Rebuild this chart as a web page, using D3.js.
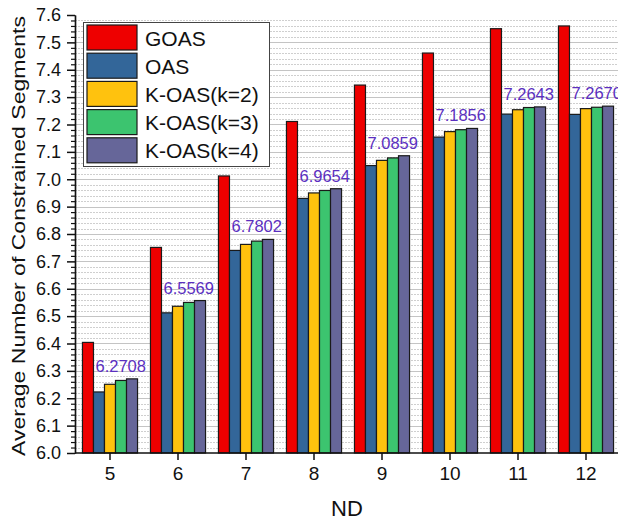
<!DOCTYPE html>
<html>
<head>
<meta charset="utf-8">
<script src="https://cdn.jsdelivr.net/npm/d3@7"></script>
<style>
  body { margin: 0; background: #fff; }
  text { font-family: Arial, "Liberation Sans", sans-serif; }
</style>
</head>
<body>
<div class="chart"></div>
<script>
// data
const ndValues = ["5", "6", "7", "8", "9", "10", "11", "12"];
const seriesNames = ["GOAS", "OAS", "K-OAS(k=2)", "K-OAS(k=3)", "K-OAS(k=4)"];
const seriesColors = ["#ee0000", "#336699", "#ffc20e", "#3cc46f", "#666699"];
const goas = [6.404, 6.751, 7.012, 7.211, 7.344, 7.461, 7.550, 7.560];
const oas  = [6.223, 6.512, 6.740, 6.930, 7.050, 7.154, 7.238, 7.237];
const koas2 = [6.251, 6.536, 6.762, 6.950, 7.069, 7.174, 7.254, 7.258];
const koas3 = [6.265, 6.550, 6.774, 6.959, 7.078, 7.181, 7.262, 7.263];
const koas4 = [6.2708, 6.5569, 6.7802, 6.9654, 7.0859, 7.1856, 7.2643, 7.2670];
const valueLabels = ["6.2708", "6.5569", "6.7802", "6.9654", "7.0859", "7.1856", "7.2643", "7.2670"];
const yTickValues = [6.0, 6.1, 6.2, 6.3, 6.4, 6.5, 6.6, 6.7, 6.8, 6.9, 7.0, 7.1, 7.2, 7.3, 7.4, 7.5, 7.6];
const yTickLabels = ["6.0", "6.1", "6.2", "6.3", "6.4", "6.5", "6.6", "6.7", "6.8", "6.9", "7.0", "7.1", "7.2", "7.3", "7.4", "7.5", "7.6"];

const allSeries = [goas, oas, koas2, koas3, koas4];

const width = 618, height = 520;
const plotLeft = 75, plotRight = 618, plotTop = 15, plotBottom = 453;

const svg = d3.select(".chart").append("svg")
    .attr("width", width)
    .attr("height", height);

const y = d3.scaleLinear().domain([6.0, 7.6]).range([plotBottom, plotTop]);
const x = d3.scaleBand().domain(ndValues).range([76, 620])
    .paddingInner(0.19).paddingOuter(0.095);
const xs = d3.scaleBand().domain(seriesNames).range([0, x.bandwidth()]);

// grid: dotted minor, solid major
const minor = y.ticks(80).filter(v => Math.abs(v * 10 - Math.round(v * 10)) > 1e-6);
svg.append("g").selectAll("line")
    .data(minor)
    .enter().append("line")
    .attr("x1", plotLeft).attr("x2", plotRight)
    .attr("y1", d => Math.round(y(d)) + 0.5).attr("y2", d => Math.round(y(d)) + 0.5)
    .attr("stroke", "#cfcfcf")
    .attr("stroke-dasharray", "2,1");

svg.append("g").selectAll("line")
    .data(yTickValues.slice(1, -1))
    .enter().append("line")
    .attr("x1", plotLeft).attr("x2", plotRight)
    .attr("y1", d => Math.round(y(d)) + 0.5).attr("y2", d => Math.round(y(d)) + 0.5)
    .attr("stroke", "#c4c4c4");

// bars
const groups = svg.append("g").selectAll("g")
    .data(ndValues)
    .enter().append("g")
    .attr("transform", d => "translate(" + x(d) + ",0)");

groups.selectAll("rect")
    .data((d, i) => seriesNames.map((s, j) => ({ s: s, v: allSeries[j][i], j: j })))
    .enter().append("rect")
    .attr("x", d => xs(d.s))
    .attr("y", d => y(d.v))
    .attr("width", xs.bandwidth())
    .attr("height", d => plotBottom - y(d.v))
    .attr("fill", d => seriesColors[d.j])
    .attr("stroke", "#1a1a1a")
    .attr("stroke-width", 1.2);

// value labels above the K-OAS(k=4) bars
svg.append("g").selectAll("text")
    .data(ndValues)
    .enter().append("text")
    .attr("x", d => x(d) + xs("OAS") + 2)
    .attr("y", (d, i) => y(koas4[i]) - 7)
    .attr("font-size", 16.5)
    .attr("fill", "#5b2fbf")
    .text((d, i) => valueLabels[i]);

// axes
const yAxis = svg.append("g")
    .attr("transform", "translate(" + plotLeft + ",0)")
    .call(d3.axisLeft(y).tickValues(yTickValues)
        .tickFormat((d, i) => yTickLabels[i])
        .tickSize(8).tickSizeOuter(0).tickPadding(6));
yAxis.selectAll("text").attr("font-size", 18).attr("fill", "#111");
yAxis.selectAll("line, path").attr("stroke", "#111").attr("stroke-width", 1.5);

const yMinor = svg.append("g")
    .attr("transform", "translate(" + plotLeft + ",0)")
    .call(d3.axisLeft(y).tickValues(minor).tickFormat("").tickSize(4).tickSizeOuter(0));
yMinor.selectAll("line, path").attr("stroke", "#111").attr("stroke-width", 1.2);

const xAxis = svg.append("g")
    .attr("transform", "translate(0," + plotBottom + ")")
    .call(d3.axisBottom(x).tickSize(7).tickSizeOuter(0).tickPadding(7));
xAxis.select(".domain").attr("d", "M" + plotLeft + ",0H" + plotRight);
xAxis.selectAll("text").attr("font-size", 19).attr("fill", "#111");
xAxis.selectAll("line, path").attr("stroke", "#111").attr("stroke-width", 1.5);

// axis titles
svg.append("text")
    .attr("x", 347).attr("y", 516)
    .attr("text-anchor", "middle")
    .attr("font-size", 22)
    .attr("fill", "#111")
    .text("ND");

svg.append("text")
    .attr("transform", "translate(25," + 236 + ") rotate(-90)")
    .attr("text-anchor", "middle")
    .attr("font-size", 18)
    .attr("textLength", 440)
    .attr("lengthAdjust", "spacingAndGlyphs")
    .attr("fill", "#111")
    .text("Average Number of Constrained Segments");

// legend
const legend = svg.append("g");
legend.append("rect")
    .attr("x", 83.5).attr("y", 22.5)
    .attr("width", 186).attr("height", 144)
    .attr("fill", "#fff")
    .attr("stroke", "#444");

const items = legend.selectAll("g.item")
    .data(seriesNames)
    .enter().append("g")
    .attr("class", "item")
    .attr("transform", (d, i) => "translate(87," + (25 + i * 28.2) + ")");
items.append("rect")
    .attr("width", 50).attr("height", 25)
    .attr("fill", (d, i) => seriesColors[i])
    .attr("stroke", "#1a1a1a")
    .attr("stroke-width", 1.2);
items.append("text")
    .attr("x", 58).attr("y", 20.5)
    .attr("font-size", 21)
    .attr("fill", "#111")
    .text(d => d);
</script>
</body>
</html>
